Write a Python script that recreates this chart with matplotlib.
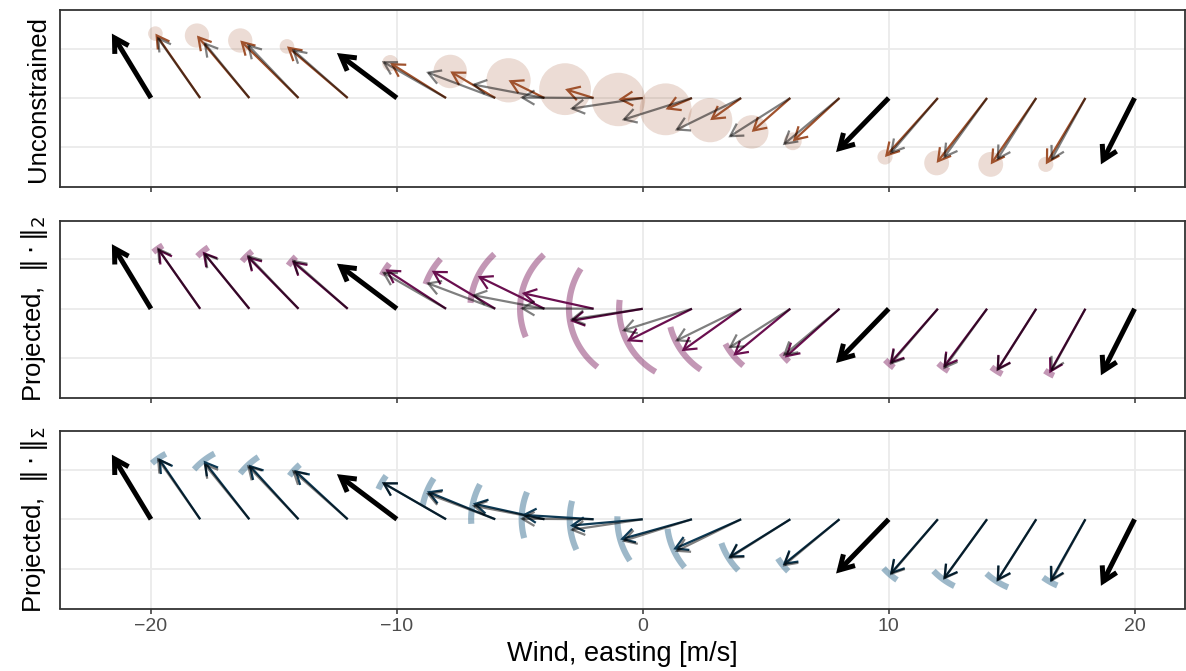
import numpy as np
import matplotlib
matplotlib.use("Agg")
import matplotlib.pyplot as plt
from matplotlib.patches import FancyArrowPatch

plt.rcParams['font.family'] = ['Liberation Sans', 'DejaVu Sans']
plt.rcParams['mathtext.fontset'] = 'dejavusans'

# Data: arrows start at (x, 0), tips
obs_x = [-20, -10, 10, 20]
obs_tip_x = [-21.59, -12.44, 7.86, 18.63]
obs_tip_y = [1.31, 0.915, -1.10, -1.35]

est_x = [-18, -16, -14, -12, -8, -6, -4, -2, 0, 2, 4, 6, 8, 12, 14, 16, 18]

# reference direction (grey, same in every panel)
ref_tip_x = [-19.76, -17.86, -16.10, -14.27, -10.61, -8.81, -6.95, -4.99, -2.96,
             -0.85, 1.31, 3.48, 5.69, 10.05, 12.22, 14.39, 16.59]
ref_tip_y = [1.25, 1.14, 1.10, 1.00, 0.75, 0.53, 0.28, 0.01, -0.22,
             -0.45, -0.66, -0.80, -0.96, -1.14, -1.23, -1.27, -1.28]

# unconstrained estimate + its uncertainty
unc_tip_x = [-19.82, -18.13, -16.37, -14.47, -10.27, -7.83, -5.46, -3.16, -0.99,
             0.93, 2.74, 4.43, 6.10, 9.85, 11.95, 14.15, 16.39]
unc_tip_y = [1.31, 1.27, 1.17, 1.05, 0.71, 0.54, 0.36, 0.18, -0.03,
             -0.23, -0.45, -0.69, -0.88, -1.20, -1.32, -1.35, -1.35]
unc_sd = [0.27, 0.45, 0.45, 0.27, 0.30, 0.62, 0.82, 0.96, 0.99,
          0.96, 0.82, 0.62, 0.33, 0.28, 0.46, 0.46, 0.28]

# projected, ||.||_2 ; angular spread in degrees
l2_tip_x = [-19.72, -17.90, -16.10, -14.27, -10.47, -8.58, -6.71, -4.92, -2.96,
            -0.65, 1.58, 3.68, 5.78, 10.03, 12.22, 14.39, 16.53]
l2_tip_y = [1.22, 1.16, 1.07, 0.97, 0.80, 0.77, 0.66, 0.32, -0.25,
            -0.66, -0.86, -0.95, -0.99, -1.12, -1.19, -1.26, -1.31]
l2_spread = [4.5, 5.5, 5.5, 4.5, 5.5, 11.5, 21.5, 35, 42.5,
             33.5, 21, 11, 4.5, 4.5, 5, 5, 4]

# projected, ||.||_Sigma
sig_tip_x = [-19.69, -17.86, -16.03, -14.17, -10.61, -8.78, -6.91, -4.92, -2.96,
             -0.92, 1.24, 3.48, 5.69, 10.05, 12.22, 14.39, 16.56]
sig_tip_y = [1.24, 1.19, 1.11, 1.00, 0.75, 0.565, 0.32, 0.09, -0.13,
             -0.41, -0.61, -0.78, -0.93, -1.12, -1.22, -1.26, -1.27]
sig_spread = [6.5, 10, 9.5, 6, 6, 11.5, 16, 18.7, 19.6,
              18, 16.5, 12.7, 6.5, 7, 10, 10, 6.5]

labels = ["Unconstrained", r"Projected,  $\Vert\cdot\Vert_2$",
          r"Projected,  $\Vert\cdot\Vert_{\mathit{\Sigma}}$"]

W, H = 1186, 671
XLIM = (-23.7, 22.05)
YLIM = (-1.81, 1.79)
fig = plt.figure(figsize=(W / 100, H / 100), dpi=100)
rects = [[60 / W, 1 - 187 / H, 1125 / W, 177 / H],
         [60 / W, 1 - 398 / H, 1125 / W, 177.5 / H],
         [60 / W, 1 - 608.5 / H, 1125 / W, 177.5 / H]]
axes = [fig.add_axes(r) for r in rects]


def arrow(ax, x0, x1, y1, color, lw, hl=8.8, hw=5.1, alpha=1.0, z=3):
    a = FancyArrowPatch((x0, 0), (x1, y1), arrowstyle='->,head_length=%g,head_width=%g' % (hl, hw),
                        mutation_scale=1, shrinkA=0, shrinkB=0, color=color, lw=lw,
                        alpha=alpha, zorder=z, capstyle='butt', joinstyle='miter')
    ax.add_patch(a)


def arcs(ax, tx, ty, spread, color, alpha):
    pos = ax.get_position()
    sx = pos.width * W / (XLIM[1] - XLIM[0])
    sy = pos.height * H / (YLIM[1] - YLIM[0])
    for x0, x1, y1, h in zip(est_x, tx, ty, spread):
        u, v = (x1 - x0) * sx, y1 * sy
        r = np.hypot(u, v)
        th = np.arctan2(v, u)
        a = np.linspace(th - np.radians(h), th + np.radians(h), 60)
        ax.plot(x0 + r * np.cos(a) / sx, r * np.sin(a) / sy, color=color, alpha=alpha,
                lw=4.4, solid_capstyle='butt', zorder=2)


for i, ax in enumerate(axes):
    ax.set_xlim(XLIM)
    ax.set_ylim(YLIM)
    ax.set_xticks([-20, -10, 0, 10, 20])
    ax.set_yticks([-1, 0, 1])
    ax.grid(True, color='#EBEBEB', lw=1.3, zorder=0)
    ax.set_axisbelow(True)
    for s in ax.spines.values():
        s.set_color('#333333')
        s.set_linewidth(1.3)
    ax.tick_params(axis='x', length=3.5, width=1.1, color='#333333',
                   labelsize=14, labelcolor='#4D4D4D', pad=3)
    ax.tick_params(axis='y', length=0, labelleft=False)
    if i < 2:
        ax.tick_params(axis='x', labelbottom=False)
    ax.set_ylabel(labels[i], fontsize=18.5, labelpad=7)

    if i == 0:
        size = [(2 * 27 * s * 0.72) ** 2 for s in unc_sd]
        ax.scatter(unc_tip_x, unc_tip_y, s=size, color='#A0522D', alpha=0.2,
                   linewidths=0, zorder=2)
        tx, ty, col = unc_tip_x, unc_tip_y, '#A0522D'
    elif i == 1:
        arcs(ax, l2_tip_x, l2_tip_y, l2_spread, '#7A1A5C', 0.45)
        tx, ty, col = l2_tip_x, l2_tip_y, '#6A0F4F'
    else:
        arcs(ax, sig_tip_x, sig_tip_y, sig_spread, '#3C7394', 0.5)
        tx, ty, col = sig_tip_x, sig_tip_y, '#0D3A55'

    for x0, x1, y1 in zip(est_x, tx, ty):
        arrow(ax, x0, x1, y1, col, 1.6, z=3)
    for x0, x1, y1 in zip(est_x, ref_tip_x, ref_tip_y):
        arrow(ax, x0, x1, y1, 'black', 1.6, alpha=0.5, z=4)
    for x0, x1, y1 in zip(obs_x, obs_tip_x, obs_tip_y):
        arrow(ax, x0, x1, y1, 'black', 3.6, hl=10, hw=5.8, z=5)

axes[2].set_xlabel("Wind, easting [m/s]", fontsize=19.5, labelpad=5)

fig.savefig("out.png", dpi=100)
